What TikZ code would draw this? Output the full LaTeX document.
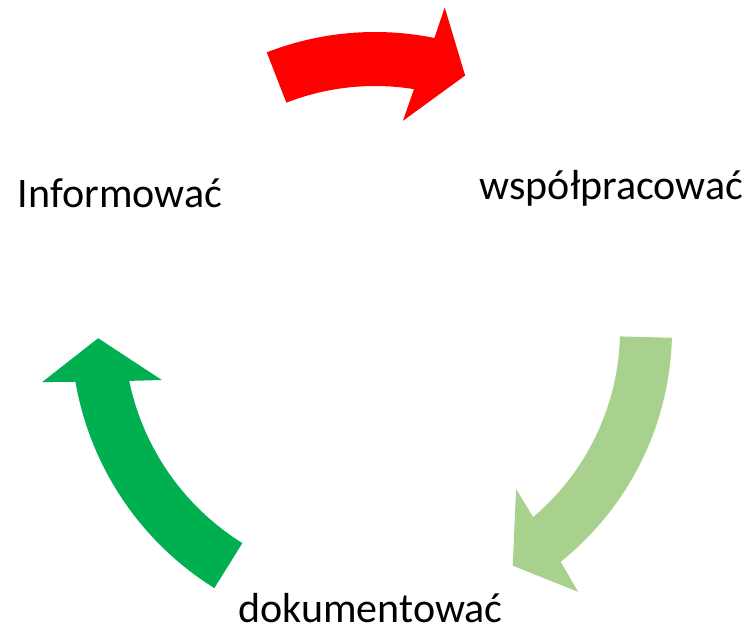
\documentclass[tikz,border=0pt]{standalone}
\usepackage{fontspec}
\setmainfont{Carlito}
\definecolor{arrred}{HTML}{FF0000}
\definecolor{arrlight}{HTML}{A9D18E}
\definecolor{arrdark}{HTML}{00B050}
\begin{document}
\begin{tikzpicture}[x=1pt,y=1pt,
  lbl/.style={inner sep=0pt, anchor=base, font=\fontsize{42}{50}\selectfont},
  cyc/.style={draw=none}]
\useasboundingbox (0,0) rectangle (750,629);
\begin{scope}[shift={(375,299)}]
  % red arrow (top)
  \fill[arrred] (111.3:298) arc[start angle=111.3, end angle=78.5, radius=298]
     -- (77.8:330) -- (70.5:270) -- (82.4:211) -- (80.8:244)
     arc[start angle=80.8, end angle=111.3, radius=244] -- cycle;
  % light green arrow (right)
  \fill[arrlight] (-1.5:297) arc[start angle=-1.5, end angle=-51.3, radius=297]
     -- (-52.2:331.5) -- (-59.7:273) -- (-48.4:212.5) -- (-49.8:245)
     arc[start angle=-49.8, end angle=-1.5, radius=245] -- cycle;
  % dark green arrow (left)
  \fill[arrdark] (-121.9:304) arc[start angle=-121.9, end angle=-170.2, radius=304]
     -- (-171.1:337) -- (-178.3:277) -- (-166.8:219) -- (-168.3:251)
     arc[start angle=-168.3, end angle=-121.9, radius=251] -- cycle;
\end{scope}
\node[lbl] (inf) at (120,421.3) {Informować};
\node[lbl] (wsp) at (611.5,429.7) {współpracować};
\node[lbl] (dok) at (370.5,6) {dokumentować};
\end{tikzpicture}
\end{document}
